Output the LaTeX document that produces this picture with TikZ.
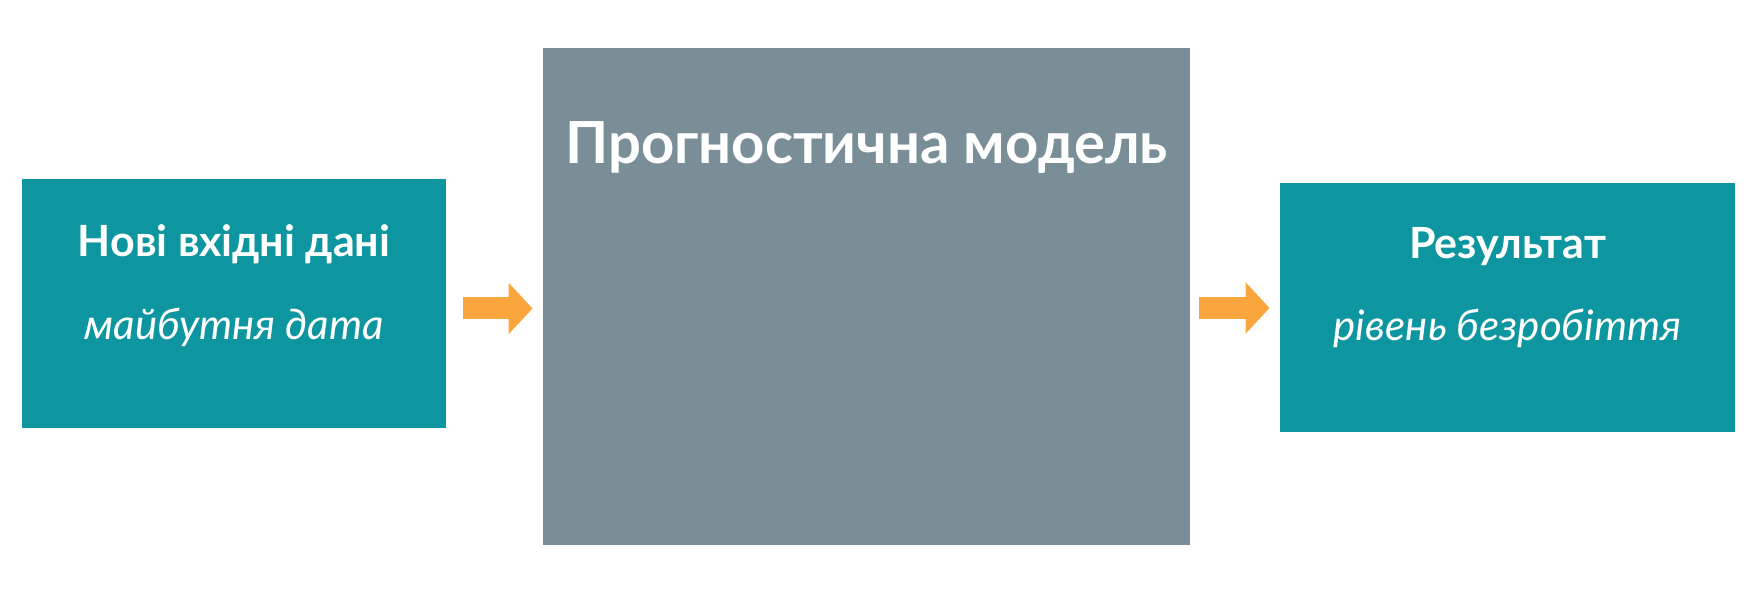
\documentclass[tikz,border=0pt]{standalone}
\usepackage{fontspec}
\setmainfont{Lato}
\usetikzlibrary{arrows.meta}
\definecolor{boxteal}{RGB}{14,150,160}
\definecolor{modelgray}{RGB}{122,142,152}
\definecolor{arroworange}{RGB}{251,165,63}

\begin{document}
\begin{tikzpicture}[x=0.5pt, y=-0.5pt, % 1 = один піксель
    box/.style={fill=boxteal, inner sep=0pt, minimum height=124.5pt}, % бірюзові блоки
    title/.style={text=white, font=\bfseries\fontsize{21.5}{25}\selectfont}, % заголовок
    note/.style={text=white, font=\itshape\fontsize{21}{25}\selectfont}, % підпис
    flow/.style={arroworange, line width=11pt, -{Triangle[length=12pt, width=25pt]}}] % стрілка
  \useasboundingbox (0,0) rectangle (1757,592); % поля як у зразку

  \node[box, minimum width=212pt] (new) at (234,303.5) {}; % вхід
  \node[title] (newtitle) at (234,244) {Нові вхідні дані};
  \node[note] (newnote) at (234,327) {майбутня дата};

  \node[fill=modelgray, inner sep=0pt, minimum width=323.5pt, minimum height=248.5pt] (model) at (866.5,296.5) {}; % модель
  \node[title, font=\bfseries\fontsize{29}{34}\selectfont] (modeltitle) at (866.5,148) {Прогностична модель};

  \node[box, minimum width=227.5pt] (res) at (1507.5,308) {}; % вихід
  \node[title] (restitle) at (1507.5,247) {Результат};
  \node[note] (resnote) at (1507.5,328) {рівень безробіття};

  \draw[flow, shorten <=8.5pt, shorten >=5pt] ([yshift=-2.5pt]new.east) -- ([yshift=-2.5pt]new.east -| model.west); % вхід -> модель
  \draw[flow, shorten <=4.5pt, shorten >=5pt] (model.east |- res.west) -- (res.west); % модель -> вихід
\end{tikzpicture}
\end{document}
